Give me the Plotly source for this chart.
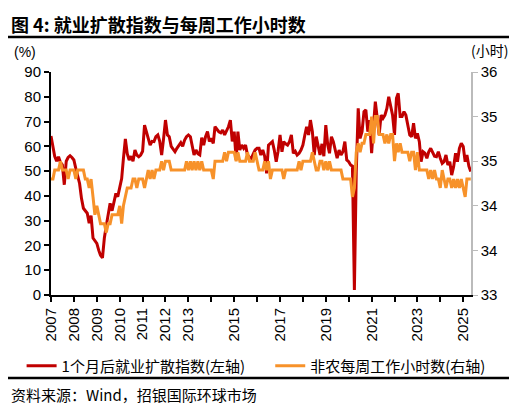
import pandas as pd
import plotly.graph_objects as go


# -------------------------------------------------
# Data (monthly, Jan 2007 - May 2025)
# -------------------------------------------------

months = pd.date_range("2007-01-01", periods=221, freq="MS")

# 1个月后就业扩散指数 (%), left axis
diffusion = [
    64.2, 60, 56, 54, 55.8, 53.5, 52.5, 44.5, 54, 55.5, 56.2, 55.5,
    54.5, 51, 48, 45, 39, 35, 34, 33, 29, 32, 23, 22,
    20.8, 18, 16, 15, 23, 28, 32.3, 37, 34, 37, 41, 39.7,
    43, 47, 55, 63, 57, 54.5, 56, 54, 58.5, 56.5, 55.8, 56.5,
    58, 68.6, 66, 63.5, 60.5, 62, 61.9, 63.9, 64.6, 62, 56.5, 63,
    70.6, 64.6, 63.9, 60, 59, 57.8, 59.2, 60.5, 61.5, 60, 62.5, 63.9,
    64.6, 63.9, 60.5, 56.5, 58.5, 57, 56.5, 63.5, 60.5, 63.9, 66, 62,
    63.2, 61.2, 67.9, 66.6, 65.9, 65.5, 66.6, 64.6, 66, 67.9, 70.6, 62,
    65.9, 54.5, 65.9, 58.5, 60.5, 59.2, 60.5, 56.5, 55.5, 55.2, 57, 58.5,
    59.2, 59.2, 56.5, 58.5, 56, 49.1, 60.5, 61.2, 61.9, 58.5, 53.8, 58,
    64.6, 57.8, 61.9, 61, 60.5, 61.9, 64.6, 57.2, 58, 56.5, 57.2, 58.5,
    60.5, 64.6, 67.9, 64.6, 70.6, 65.9, 56.5, 63.9, 60.5, 56.5, 61, 56,
    68.6, 60.5, 57.2, 63.9, 61.9, 57.8, 55.2, 58.5, 56.5, 57.8, 61.9, 54.5,
    53.8, 52.5, 52, 2, 50, 75.3, 63.2, 65.9, 74, 74.7, 65.9, 70.6,
    57.2, 68.6, 78, 71.3, 64.6, 72.6, 71.3, 72.6, 75.3, 80, 76.7, 72.6,
    64.6, 79.4, 81.4, 72, 72, 74, 72.6, 68.6, 64.6, 63.9, 69.3, 63.2,
    65.2, 61.9, 53.8, 57.8, 57.2, 55.2, 57.8, 59.2, 57.2, 56, 55.8, 57.8,
    55.2, 53.1, 53.8, 56.5, 52.5, 53.8, 48.4, 51.8, 57.2, 53.8, 59.2, 61.2,
    59.9, 53.8, 56.5, 52, 49.8,
]

# 非农每周工作小时数 (小时), right axis
hours = [
    34.3, 34.3, 34.4, 34.4, 34.4, 34.5, 34.4, 34.4, 34.4, 34.3, 34.4, 34.4,
    34.4, 34.3, 34.4, 34.4, 34.4, 34.4, 34.3, 34.3, 34.2, 34.3, 34.1, 33.9,
    34.0, 33.9, 33.8, 33.8, 33.8, 33.7, 33.8, 33.8, 33.9, 33.9, 33.9, 33.9,
    34.0, 33.8, 34.0, 34.1, 34.2, 34.2, 34.2, 34.3, 34.3, 34.2, 34.3, 34.3,
    34.3, 34.2, 34.3, 34.4, 34.3, 34.4, 34.3, 34.4, 34.4, 34.4, 34.5, 34.4,
    34.5, 34.5, 34.5, 34.4, 34.4, 34.4, 34.4, 34.4, 34.4, 34.4, 34.4, 34.5,
    34.4, 34.5, 34.4, 34.5, 34.4, 34.5, 34.4, 34.5, 34.4, 34.4, 34.4, 34.4,
    34.4, 34.3, 34.5, 34.5, 34.5, 34.5, 34.5, 34.6, 34.5, 34.6, 34.6, 34.6,
    34.6, 34.5, 34.6, 34.5, 34.5, 34.5, 34.5, 34.6, 34.5, 34.5, 34.5, 34.6,
    34.5, 34.4, 34.4, 34.4, 34.5, 34.4, 34.5, 34.3, 34.4, 34.4, 34.4, 34.4,
    34.4, 34.4, 34.3, 34.4, 34.4, 34.4, 34.4, 34.4, 34.4, 34.4, 34.5, 34.4,
    34.5, 34.5, 34.5, 34.5, 34.5, 34.6, 34.5, 34.4, 34.4, 34.5, 34.5, 34.4,
    34.5, 34.4, 34.5, 34.4, 34.4, 34.4, 34.4, 34.4, 34.4, 34.3, 34.3, 34.3,
    34.3, 34.3, 34.1, 34.2, 34.6, 34.7, 34.6, 34.7, 34.7, 34.8, 34.8, 34.8,
    35.0, 34.7, 35.0, 35.0, 34.8, 34.8, 34.8, 34.7, 34.8, 34.7, 34.8, 34.8,
    34.5, 34.7, 34.6, 34.7, 34.6, 34.6, 34.6, 34.6, 34.5, 34.6, 34.6, 34.4,
    34.6, 34.4, 34.4, 34.4, 34.4, 34.4, 34.3, 34.4, 34.3, 34.4, 34.3, 34.3,
    34.2, 34.4, 34.3, 34.2, 34.3, 34.3, 34.2, 34.3, 34.2, 34.3, 34.2, 34.3,
    34.2, 34.1, 34.3, 34.3, 34.3,
]

tick_years = list(range(2007, 2026))
tick_labels = ["2007", "2008", "2009", "2010", "2011", "2012", "2013", "",
               "2015", "", "2017", "", "2019", "", "2021", "", "2023", "", "2025"]

right_ticks = [33, 33.5, 34, 34.5, 35, 35.5]
right_labels = ["33", "34", "34", "35", "35", "36"]

RED = "#C00000"
ORANGE = "#F7922A"
FONT = "Liberation Sans, Arial, sans-serif"
CJK = "Noto Sans CJK SC"


# -------------------------------------------------
# Figure
# -------------------------------------------------

fig = go.Figure()

fig.add_trace(go.Scatter(
    x=months,
    y=diffusion,
    mode="lines",
    name="1个月后就业扩散指数(左轴)",
    line=dict(color=RED, width=3),
    legend="legend",
))

fig.add_trace(go.Scatter(
    x=months,
    y=hours,
    mode="lines",
    name="非农每周工作小时数(右轴)",
    line=dict(color=ORANGE, width=3),
    yaxis="y2",
    legend="legend2",
))

legend_style = dict(
    orientation="h",
    xanchor="left",
    y=-0.318,
    yanchor="middle",
    font=dict(family=CJK, size=15),
    bgcolor="rgba(0,0,0,0)",
)

# page body has an 8px margin, so the figure is 8px smaller each way
fig.update_layout(
    width=509,
    height=405,
    margin=dict(l=43, r=46, t=64, b=118),
    paper_bgcolor="white",
    plot_bgcolor="white",
    font=dict(family=FONT, size=13, color="#000000"),
    showlegend=True,
    legend=dict(x=-0.07, **legend_style),
    legend2=dict(x=0.522, **legend_style),
    xaxis=dict(
        type="date",
        range=["2007-01-01", "2025-05-05"],
        tickvals=[pd.Timestamp(f"{y}-01-01") for y in tick_years],
        ticktext=tick_labels,
        tickangle=-90,
        showline=True,
        linecolor="#000000",
        linewidth=2,
        ticks="outside",
        ticklen=5,
        tickwidth=1.5,
        tickcolor="#000000",
        showgrid=False,
        zeroline=False,
        tickfont=dict(family=FONT, size=15),
    ),
    yaxis=dict(
        range=[0, 90],
        dtick=10,
        showline=True,
        linecolor="#000000",
        linewidth=2,
        ticks="outside",
        ticklen=5,
        tickwidth=1.5,
        tickcolor="#000000",
        showgrid=False,
        zeroline=False,
        tickfont=dict(family=FONT, size=15),
    ),
    yaxis2=dict(
        range=[33, 35.5],
        overlaying="y",
        side="right",
        tickvals=right_ticks,
        ticktext=right_labels,
        showline=True,
        linecolor="#BBBBBB",
        linewidth=1.5,
        ticks="outside",
        ticklen=5,
        tickcolor="#BBBBBB",
        showgrid=False,
        zeroline=False,
        tickfont=dict(family=FONT, size=15),
    ),
)

# title, units, source
fig.add_annotation(
    text="<b>图 4: 就业扩散指数与每周工作小时数</b>",
    xref="paper", yref="paper", x=-0.1, y=1.282,
    xanchor="left", yanchor="top", showarrow=False,
    font=dict(family=CJK, size=18, color="#000000"),
)
fig.add_annotation(
    text="(%)",
    xref="paper", yref="paper", x=-0.092, y=1.09,
    xanchor="left", yanchor="middle", showarrow=False,
    font=dict(family=FONT, size=14),
)
fig.add_annotation(
    text="(小时)",
    xref="paper", yref="paper", x=1.093, y=1.1,
    xanchor="right", yanchor="middle", showarrow=False,
    font=dict(family=CJK, size=14),
)
fig.add_annotation(
    text="资料来源：Wind，招银国际环球市场",
    xref="paper", yref="paper", x=-0.1, y=-0.448,
    xanchor="left", yanchor="middle", showarrow=False,
    font=dict(family=CJK, size=15),
)

# separator rules
for yy in (1.157, -0.372):
    fig.add_shape(
        type="line", xref="paper", yref="paper",
        x0=-0.11, x1=1.098, y0=yy, y1=yy,
        line=dict(color="#000000", width=2.5),
    )

fig.write_html("out.html")
